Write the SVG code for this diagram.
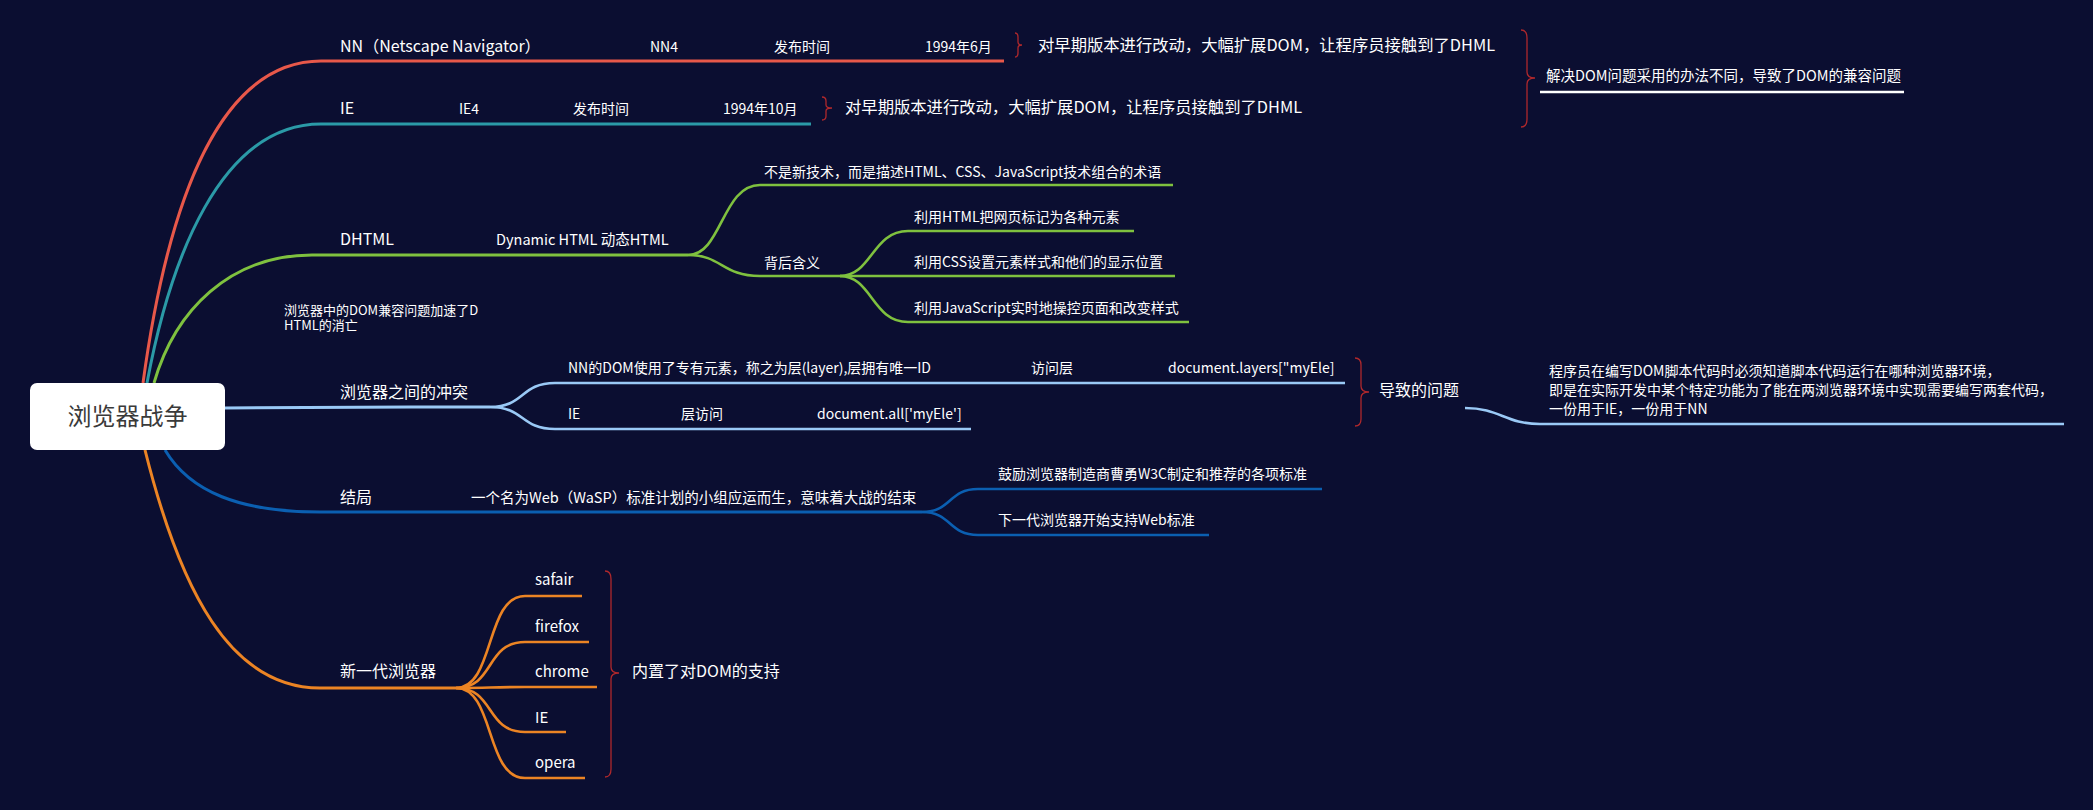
<svg xmlns="http://www.w3.org/2000/svg" width="2093" height="810" viewBox="0 0 2093 810">
<style>
text { font-family: "Noto Sans CJK SC", "Noto Sans", "Liberation Sans", sans-serif; fill: #ffffff; }
.t16 { font-size: 16px; }
.t15 { font-size: 15px; }
.t14 { font-size: 14px; }
.t13 { font-size: 13px; }
.ln { fill: none; stroke-linecap: butt; stroke-width: 3; }
.sub { stroke-width: 2.6; }
.red { stroke: #e8584a; }
.teal { stroke: #2b9aa7; }
.green { stroke: #7fc13f; }
.lblue { stroke: #9ac9f6; }
.dblue { stroke: #0b5fb1; }
.orange { stroke: #ec8424; }
.brace { fill: none; stroke: #b0282c; stroke-width: 1.3; }
</style>
<rect width="2093" height="810" fill="#0b0e31"/>

<g id="connectors">
  <path class="ln red" d="M 143 383 C 168 200, 220 61, 321 61 L 1004 61"/>
  <path class="ln teal" d="M 147 383 C 170 260, 220 124, 321 124 L 811 124"/>
  <path class="ln green" d="M 154 383 C 175 310, 230 255, 312 255 L 688 255"/>
  <path class="ln sub green" d="M 688 255 C 722 255, 722 185, 760 185 L 1173 185"/>
  <path class="ln sub green" d="M 688 255 C 722 255, 722 276, 760 276 L 840 276"/>
  <path class="ln sub green" d="M 840 276 C 872 276, 872 231, 908 231 L 1134 231"/>
  <path class="ln sub green" d="M 840 276 L 1175 276"/>
  <path class="ln sub green" d="M 840 276 C 872 276, 872 322, 908 322 L 1189 322"/>
  <path class="ln lblue" d="M 225 408 C 300 407, 400 407, 490 407"/>
  <path class="ln sub lblue" d="M 490 407 C 525 407, 520 383, 555 383 L 1345 383"/>
  <path class="ln sub lblue" d="M 490 407 C 525 407, 520 429, 555 429 L 971 429"/>
  <path class="ln sub lblue" d="M 1465 408 C 1500 408, 1505 424, 1540 424 L 2064 424"/>
  <path class="ln dblue" d="M 165 450 C 190 492, 240 512, 320 512 L 922 512"/>
  <path class="ln sub dblue" d="M 922 512 C 952 512, 948 489, 978 489 L 1322 489"/>
  <path class="ln sub dblue" d="M 922 512 C 952 512, 948 535, 978 535 L 1209 535"/>
  <path class="ln orange" d="M 145 450 C 180 590, 230 688, 320 688 L 456 688"/>
  <path class="ln sub orange" d="M 456 688 C 495 688, 485 596, 525 596 L 582 596"/>
  <path class="ln sub orange" d="M 456 688 C 495 688, 485 642, 525 642 L 589 642"/>
  <path class="ln sub orange" d="M 456 688 C 495 688, 485 687, 525 687 L 597 687"/>
  <path class="ln sub orange" d="M 456 688 C 495 688, 485 732, 525 732 L 566 732"/>
  <path class="ln sub orange" d="M 456 688 C 495 688, 485 778, 525 778 L 585 778"/>
  <path fill="none" stroke="#ffffff" stroke-width="2.5" d="M 1540 92 L 1904 92"/>
  <path class="brace" d="M 1015 33 Q 1018 33 1018 37 L 1018 42 Q 1018 45 1022 45 Q 1018 45 1018 48 L 1018 53 Q 1018 57 1015 57"/>
  <path class="brace" d="M 822 97 Q 826 97 826 101 L 826 105 Q 826 108 832 108 Q 826 108 826 111 L 826 116 Q 826 120 822 120"/>
  <path class="brace" d="M 1521 30 Q 1527 30 1527 38 L 1527 72 Q 1527 78 1535 78 Q 1527 78 1527 84 L 1527 119 Q 1527 127 1521 127"/>
  <path class="brace" d="M 1355 358 Q 1361 358 1361 365 L 1361 386 Q 1361 392 1369 392 Q 1361 392 1361 398 L 1361 419 Q 1361 426 1355 426"/>
  <path class="brace" d="M 605 571 Q 611 571 611 579 L 611 667 Q 611 673 619 673 Q 611 673 611 679 L 611 769 Q 611 777 605 777"/>
</g>

<g id="root">
  <rect x="30" y="383" width="195" height="67" rx="7" fill="#ffffff"/>
  <text x="127.5" y="425" font-size="24" text-anchor="middle" style="fill:#3a3a3a">浏览器战争</text>
</g>

<g id="nn">
  <text class="t16" x="340" y="52">NN（Netscape Navigator）</text>
  <text class="t14" x="650" y="52">NN4</text>
  <text class="t14" x="774" y="52">发布时间</text>
  <text class="t14" x="925" y="52">1994年6月</text>
  <text class="t16" x="1038" y="51" textLength="457" lengthAdjust="spacingAndGlyphs">对早期版本进行改动，大幅扩展DOM，让程序员接触到了DHML</text>
</g>

<g id="ie">
  <text class="t16" x="340" y="114">IE</text>
  <text class="t14" x="459" y="114">IE4</text>
  <text class="t14" x="573" y="114">发布时间</text>
  <text class="t14" x="723" y="114">1994年10月</text>
  <text class="t16" x="845" y="113" textLength="457" lengthAdjust="spacingAndGlyphs">对早期版本进行改动，大幅扩展DOM，让程序员接触到了DHML</text>
</g>

<g id="summary">
  <text x="1546" y="81" font-size="14.5">解决DOM问题采用的办法不同，导致了DOM的兼容问题</text>
</g>

<g id="dhtml">
  <text class="t16" x="340" y="245">DHTML</text>
  <text x="496" y="245" font-size="14.5">Dynamic HTML 动态HTML</text>
  <text class="t14" x="764" y="177">不是新技术，而是描述HTML、CSS、JavaScript技术组合的术语</text>
  <text class="t14" x="764" y="268">背后含义</text>
  <text class="t14" x="914" y="222">利用HTML把网页标记为各种元素</text>
  <text class="t14" x="914" y="267">利用CSS设置元素样式和他们的显示位置</text>
  <text class="t14" x="914" y="313">利用JavaScript实时地操控页面和改变样式</text>
</g>

<g id="note">
  <text class="t13" x="284" y="315">浏览器中的DOM兼容问题加速了D</text>
  <text class="t13" x="284" y="330">HTML的消亡</text>
</g>

<g id="conflict">
  <text class="t16" x="340" y="398">浏览器之间的冲突</text>
  <text class="t14" x="568" y="373">NN的DOM使用了专有元素，称之为层(layer),层拥有唯一ID</text>
  <text class="t14" x="1031" y="373">访问层</text>
  <text class="t14" x="1168" y="373">document.layers["myEle]</text>
  <text class="t14" x="568" y="419">IE</text>
  <text class="t14" x="681" y="419">层访问</text>
  <text class="t14" x="817" y="419">document.all['myEle']</text>
  <text class="t16" x="1379" y="396">导致的问题</text>
  <text class="t14" x="1549" y="376">程序员在编写DOM脚本代码时必须知道脚本代码运行在哪种浏览器环境，</text>
  <text class="t14" x="1549" y="395">即是在实际开发中某个特定功能为了能在两浏览器环境中实现需要编写两套代码，</text>
  <text class="t14" x="1549" y="414">一份用于IE，一份用于NN</text>
</g>

<g id="ending">
  <text class="t16" x="340" y="503">结局</text>
  <text x="471" y="503" font-size="14.5">一个名为Web（WaSP）标准计划的小组应运而生，意味着大战的结束</text>
  <text class="t14" x="998" y="479">鼓励浏览器制造商曹勇W3C制定和推荐的各项标准</text>
  <text class="t14" x="998" y="525">下一代浏览器开始支持Web标准</text>
</g>

<g id="newgen">
  <text class="t16" x="340" y="677">新一代浏览器</text>
  <text class="t15" x="535" y="585">safair</text>
  <text class="t15" x="535" y="632">firefox</text>
  <text class="t15" x="535" y="677">chrome</text>
  <text class="t15" x="535" y="723">IE</text>
  <text class="t15" x="535" y="768">opera</text>
  <text class="t16" x="632" y="677">内置了对DOM的支持</text>
</g>
</svg>
